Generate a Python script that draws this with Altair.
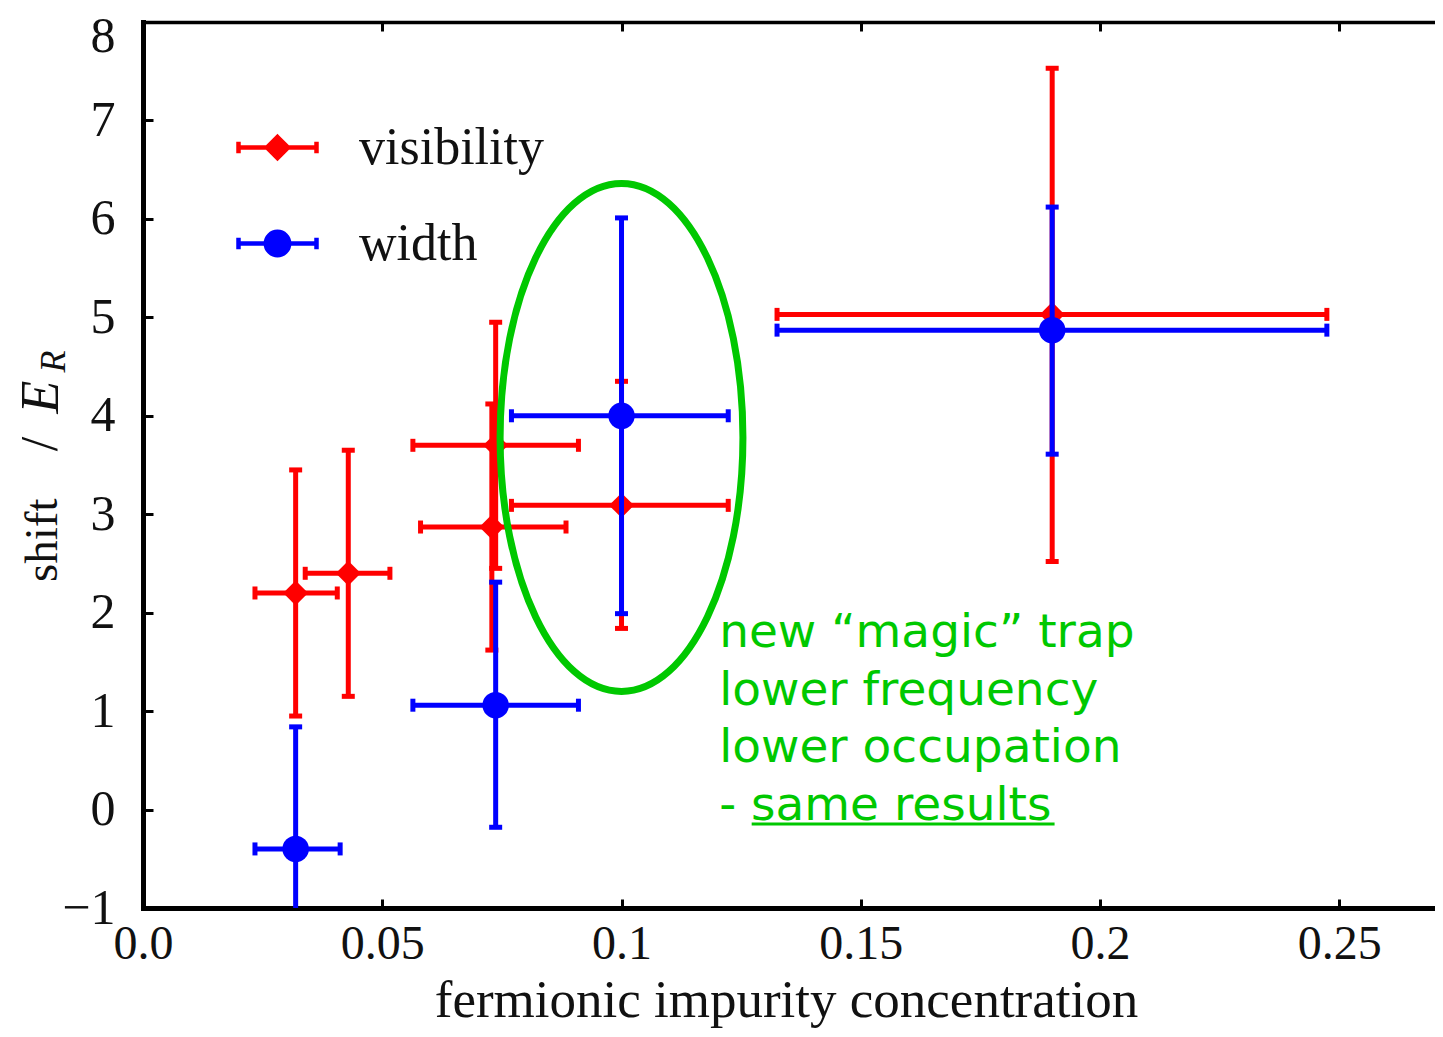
import altair as alt
import pandas as pd

# ---------------- data ----------------
series = ["visibility"] * 6 + ["width"] * 4
x_val = [0.0319, 0.0429, 0.0737, 0.0729, 0.1000, 0.1900, 0.0319, 0.0737, 0.1000, 0.1900]
y_val = [2.20, 2.40, 3.70, 2.87, 3.09, 5.03, -0.40, 1.06, 4.00, 4.87]
x_lo = [0.0234, 0.0339, 0.0564, 0.0580, 0.0770, 0.1325, 0.0234, 0.0564, 0.0770, 0.1325]
x_hi = [0.0406, 0.0516, 0.0910, 0.0884, 0.1223, 0.2474, 0.0412, 0.0910, 0.1223, 0.2474]
y_lo = [0.95, 1.15, 2.45, 1.62, 1.84, 2.52, -1.64, -0.18, 1.99, 3.61]
y_hi = [3.45, 3.65, 4.95, 4.12, 4.35, 7.53, 0.84, 2.31, 6.01, 6.12]

x_ticks = [0.0, 0.05, 0.1, 0.15, 0.2, 0.25]
y_ticks = [-1, 0, 1, 2, 3, 4, 5, 6, 7, 8]
legend_names = ["visibility", "width"]

note_text = "new \u201cmagic\u201d trap\nlower frequency\nlower occupation\n- same results"

df = pd.DataFrame({"series": series, "x": x_val, "y": y_val,
                   "xlo": x_lo, "xhi": x_hi, "ylo": y_lo, "yhi": y_hi})

# ---------------- styling / layout ----------------
W, H = 1292, 886
XMAX = 0.27
RED, BLUE, GREEN = "#ff0000", "#0000ff", "#00c800"
TXT = "#111111"
SERIF = "Liberation Serif"
LW = 5

XS = alt.Scale(domain=[0, XMAX], nice=False, zero=False)
YS = alt.Scale(domain=[-1, 8], nice=False, zero=False)

ax_x_main = alt.Axis(
    orient="bottom", values=x_ticks,
    labelExpr="datum.value == 0 ? '0.0' : format(datum.value, '~g')",
    labelFont=SERIF, labelFontSize=48, labelColor=TXT, labelPadding=12,
    labelFlush=False, labelOverlap=False,
    ticks=False, tickSize=0, grid=False,
    domain=True, domainColor="black", domainWidth=5, domainCap="square",
    title="fermionic impurity concentration", titleFont=SERIF, titleFontSize=53,
    titleFontWeight="normal", titleColor=TXT, titleX=643, titleY=108,
    titleBaseline="alphabetic", titleAlign="center")
ax_y_main = alt.Axis(
    orient="left", values=y_ticks,
    labelFont=SERIF, labelFontSize=50, labelColor=TXT, labelPadding=28,
    labelFlush=False, labelOverlap=False,
    labelOffset={"condition": {"test": "datum.value == 8", "value": 14}, "value": 0},
    ticks=False, tickSize=0, grid=False,
    domain=True, domainColor="black", domainWidth=5, domainCap="square", title=None)
ax_x_inner_bottom = alt.Axis(
    orient="top", offset=-H, values=x_ticks, labels=False, domain=False,
    ticks=True, tickSize=9, tickWidth=3, tickColor="black", grid=False, title=None)
ax_y_inner_left = alt.Axis(
    orient="right", offset=-W, values=y_ticks, labels=False, domain=False,
    ticks=True, tickSize=10, tickWidth=3, tickColor="black", grid=False, title=None)
ax_x_top = alt.Axis(
    orient="bottom", offset=-H, values=x_ticks, labels=False,
    domain=True, domainColor="black", domainWidth=3.5, domainCap="square",
    ticks=True, tickSize=9, tickWidth=3, tickColor="black", grid=False, title=None)


def series_layers(name, color, shape, size, axes=False):
    base = alt.Chart(df).transform_filter(alt.datum.series == name)
    hx = ax_x_main if axes else None
    hy = ax_y_main if axes else None
    vx = ax_x_inner_bottom if axes else None
    vy = ax_y_inner_left if axes else None
    cx = ax_x_top if axes else None
    h = base.mark_rule(color=color, strokeWidth=LW, clip=True).encode(
        x=alt.X("xlo:Q", scale=XS, axis=hx), x2="xhi:Q",
        y=alt.Y("y:Q", scale=YS, axis=hy))
    v = base.mark_rule(color=color, strokeWidth=LW, clip=True).encode(
        x=alt.X("x:Q", scale=XS, axis=vx),
        y=alt.Y("ylo:Q", scale=YS, axis=vy), y2="yhi:Q")
    capx = base.transform_fold(["xlo", "xhi"], as_=["side", "xc"]).mark_tick(
        color=color, orient="vertical", size=13, thickness=5, opacity=1, clip=True
    ).encode(x=alt.X("xc:Q", scale=XS, axis=cx), y=alt.Y("y:Q", scale=YS, axis=None))
    capy = base.transform_fold(["ylo", "yhi"], as_=["side", "yc"]).mark_tick(
        color=color, orient="horizontal", size=13, thickness=5, opacity=1, clip=True
    ).encode(x=alt.X("x:Q", scale=XS, axis=None), y=alt.Y("yc:Q", scale=YS, axis=None))
    pts = base.mark_point(shape=shape, filled=True, size=size, color=color,
                          opacity=1, clip=True).encode(
        x=alt.X("x:Q", scale=XS, axis=None), y=alt.Y("y:Q", scale=YS, axis=None))
    return [h, v, capx, capy, pts]


red_layers = series_layers("visibility", RED, "diamond", 620, axes=True)
blue_layers = series_layers("width", BLUE, "circle", 700)

# ---------------- annotations ----------------
ELLIPSE = ("M0.478,0C0.478,0.552,0.264,1,0,1C-0.264,1,-0.478,0.552,-0.478,0"
           "C-0.478,-0.552,-0.264,-1,0,-1C0.264,-1,0.478,-0.552,0.478,0Z")
ell_df = pd.DataFrame({"x": [0.100], "y": [3.78]})
ellipse = alt.Chart(ell_df).mark_point(
    shape=ELLIPSE, size=258064, filled=False, color=GREEN, strokeWidth=7, opacity=1
).encode(x=alt.X("x:Q", scale=XS, axis=None), y=alt.Y("y:Q", scale=YS, axis=None))

note_df = pd.DataFrame({"x": [0.1204], "y": [1.651], "t": [note_text]})
note = alt.Chart(note_df).mark_text(
    font="DejaVu Sans", fontSize=47, color=GREEN, align="left", baseline="alphabetic",
    lineBreak="\n", lineHeight=57.5
).encode(x=alt.X("x:Q", scale=XS, axis=None), y=alt.Y("y:Q", scale=YS, axis=None), text="t:N")

ul_df = pd.DataFrame({"x1": [0.1272], "x2": [0.1905], "y": [-0.146]})
underline = alt.Chart(ul_df).mark_rule(color=GREEN, strokeWidth=3).encode(
    x=alt.X("x1:Q", scale=XS, axis=None), x2="x2:Q", y=alt.Y("y:Q", scale=YS, axis=None))

# y axis title: "shift / E_R"
def ytext(txt, x, y, size, style="normal", align="left"):
    return alt.Chart(pd.DataFrame({"t": [txt]})).mark_text(
        angle=270, align=align, baseline="alphabetic", font=SERIF, fontSize=size,
        fontStyle=style, color=TXT
    ).encode(text="t:N", x=alt.value(x), y=alt.value(y))

ytitle = [
    ytext("shift", -86, 560, 47),
    ytext("/", -86, 422, 52, align="center"),
    ytext("E", -85, 375, 54, style="italic", align="center"),
    ytext("R", -78, 339.5, 36, style="italic", align="center"),
]

# ---------------- legend (errorbar-like symbols) ----------------
LINES = "M-1,0L1,0M-1,-0.15L-1,0.15M1,-0.15L1,0.15"
SYM_VIS = LINES + "M0,-0.27L0.27,0L0,0.27L-0.27,0Z"
SYM_WID = LINES + ("M0.3,0C0.3,0.166,0.166,0.3,0,0.3C-0.166,0.3,-0.3,0.166,-0.3,0"
                   "C-0.3,-0.166,-0.166,-0.3,0,-0.3C0.166,-0.3,0.3,-0.166,0.3,0Z")
leg = alt.Legend(title=None, orient="none", legendX=93, legendY=84,
                 symbolSize=6084, symbolStrokeWidth=4.5, padding=0,
                 labelFont=SERIF, labelFontSize=52, labelColor=TXT,
                 labelOffset=40, rowPadding=28, labelLimit=0)
leg_df = pd.DataFrame({"series": legend_names})
legend_layer = alt.Chart(leg_df).transform_filter("false").mark_point(
    filled=True, opacity=1, size=6084, strokeWidth=4.5
).encode(
    shape=alt.Shape("series:N", scale=alt.Scale(domain=legend_names, range=[SYM_VIS, SYM_WID]), legend=leg),
    fill=alt.Fill("series:N", scale=alt.Scale(domain=legend_names, range=[RED, BLUE]), legend=leg),
    stroke=alt.Stroke("series:N", scale=alt.Scale(domain=legend_names, range=[RED, BLUE]), legend=leg),
)

chart = alt.layer(
    *red_layers, *blue_layers, ellipse, note, underline, *ytitle, legend_layer
).resolve_axis(x="independent", y="independent").properties(
    width=W, height=H,
    autosize=alt.AutoSizeParams(type="none"),
    padding={"left": 135, "top": 14, "right": 0, "bottom": 121},
).configure_view(stroke=None).configure(background="white")

chart.save("out.html", embed_options={"renderer": "svg", "actions": False})
